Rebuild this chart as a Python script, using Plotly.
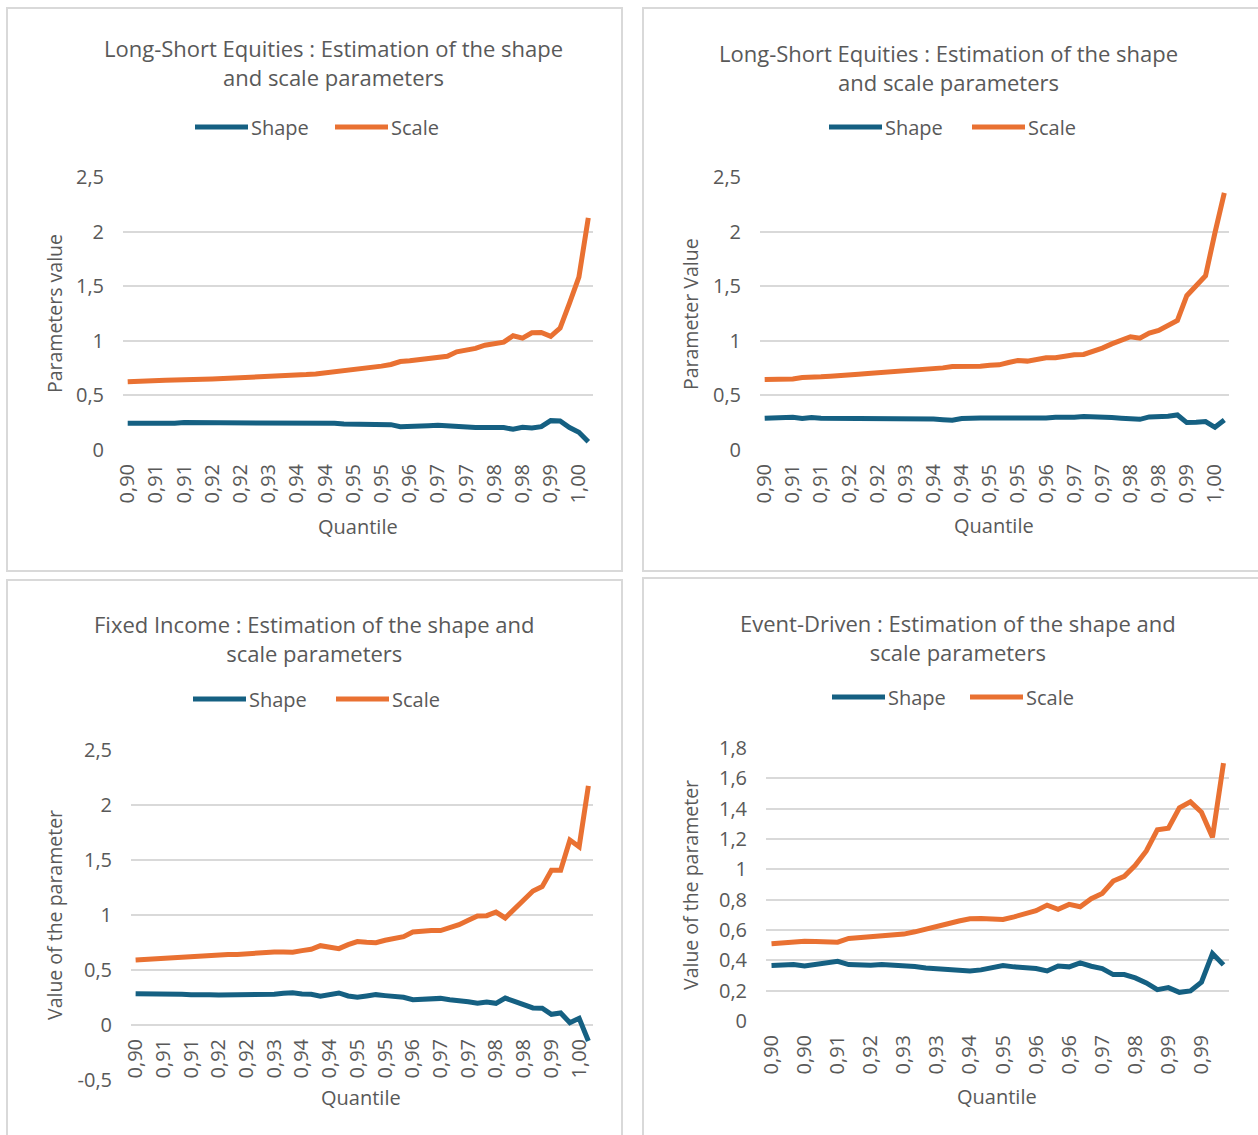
import plotly.graph_objects as go

W, H = 1258, 1135

# ---- data -------------------------------------------------------------
# Long-Short Equities (first estimation)
ls1_shape = [0.245, 0.243, 0.245, 0.245, 0.243, 0.245, 0.251, 0.251, 0.251, 0.251,
             0.251, 0.251, 0.251, 0.248, 0.248, 0.248, 0.245, 0.245, 0.248, 0.248,
             0.248, 0.245, 0.245, 0.239, 0.236, 0.235, 0.233, 0.232, 0.232, 0.214,
             0.220, 0.220, 0.223, 0.226, 0.220, 0.211, 0.208, 0.205, 0.205, 0.202,
             0.205, 0.190, 0.208, 0.202, 0.214, 0.269, 0.266, 0.205, 0.162, 0.076]
ls1_scale = [0.624, 0.630, 0.633, 0.636, 0.639, 0.642, 0.642, 0.639, 0.648, 0.651,
             0.654, 0.661, 0.664, 0.667, 0.670, 0.676, 0.682, 0.685, 0.688, 0.691,
             0.697, 0.706, 0.716, 0.725, 0.734, 0.752, 0.761, 0.768, 0.783, 0.810,
             0.817, 0.826, 0.832, 0.850, 0.859, 0.899, 0.917, 0.930, 0.960, 0.972,
             0.988, 1.046, 1.024, 1.073, 1.076, 1.040, 1.116, 1.346, 1.584, 2.125]

# Long-Short Equities (second estimation)
ls2_shape = [0.291, 0.294, 0.300, 0.300, 0.288, 0.297, 0.291, 0.291, 0.291, 0.288,
             0.284, 0.284, 0.284, 0.288, 0.288, 0.288, 0.288, 0.281, 0.284, 0.278,
             0.272, 0.288, 0.294, 0.294, 0.294, 0.294, 0.288, 0.284, 0.294, 0.291,
             0.294, 0.300, 0.297, 0.300, 0.306, 0.306, 0.303, 0.297, 0.291, 0.288,
             0.281, 0.303, 0.303, 0.309, 0.321, 0.251, 0.254, 0.260, 0.208, 0.275]
ls2_scale = [0.645, 0.645, 0.642, 0.651, 0.664, 0.664, 0.670, 0.676, 0.679, 0.691,
             0.694, 0.700, 0.706, 0.716, 0.716, 0.722, 0.725, 0.740, 0.740, 0.752,
             0.765, 0.765, 0.761, 0.768, 0.777, 0.780, 0.801, 0.820, 0.814, 0.826,
             0.844, 0.844, 0.859, 0.872, 0.875, 0.902, 0.933, 0.972, 1.003, 1.037,
             1.024, 1.070, 1.095, 1.147, 1.187, 1.413, 1.498, 1.596, 1.988, 2.355]

# Fixed Income
fi_shape = [0.285, 0.285, 0.288, 0.282, 0.279, 0.279, 0.276, 0.279, 0.276, 0.273,
            0.273, 0.279, 0.276, 0.273, 0.279, 0.279, 0.288, 0.294, 0.282, 0.279,
            0.261, 0.273, 0.291, 0.264, 0.252, 0.264, 0.276, 0.267, 0.261, 0.252,
            0.230, 0.233, 0.236, 0.242, 0.230, 0.224, 0.212, 0.197, 0.209, 0.197,
            0.245, 0.215, 0.182, 0.155, 0.152, 0.097, 0.109, 0.021, 0.061, -0.145]
fi_scale = [0.591, 0.597, 0.600, 0.606, 0.615, 0.621, 0.624, 0.627, 0.630, 0.639,
            0.642, 0.642, 0.648, 0.658, 0.658, 0.664, 0.664, 0.661, 0.676, 0.688,
            0.721, 0.709, 0.694, 0.730, 0.758, 0.752, 0.748, 0.770, 0.782, 0.803,
            0.845, 0.855, 0.858, 0.858, 0.885, 0.912, 0.952, 0.991, 0.994, 1.027,
            0.973, 1.058, 1.142, 1.218, 1.258, 1.406, 1.406, 1.682, 1.621, 2.173]

# Event-Driven
ed_shape = [0.366, 0.366, 0.372, 0.363, 0.374, 0.383, 0.394, 0.372, 0.368, 0.368,
            0.372, 0.368, 0.368, 0.359, 0.350, 0.344, 0.339, 0.335, 0.330, 0.337,
            0.350, 0.366, 0.357, 0.355, 0.346, 0.330, 0.363, 0.357, 0.383, 0.361,
            0.346, 0.306, 0.306, 0.284, 0.251, 0.207, 0.220, 0.189, 0.198, 0.256,
            0.445, 0.370]
ed_scale = [0.509, 0.515, 0.518, 0.526, 0.524, 0.524, 0.520, 0.544, 0.551, 0.555,
            0.557, 0.566, 0.573, 0.588, 0.608, 0.623, 0.641, 0.659, 0.674, 0.676,
            0.674, 0.670, 0.687, 0.703, 0.727, 0.764, 0.736, 0.769, 0.753, 0.806,
            0.841, 0.923, 0.954, 1.026, 1.121, 1.260, 1.271, 1.405, 1.445, 1.377,
            1.211, 1.700]

# quantile labels shown on the category axes (one every third observation)
q_labels_50 = ["0,90", "0,91", "0,91", "0,92", "0,92", "0,93", "0,94", "0,94", "0,95",
               "0,95", "0,96", "0,97", "0,97", "0,98", "0,98", "0,99", "1,00"]
q_labels_42 = ["0,90", "0,90", "0,91", "0,92", "0,93", "0,93", "0,94", "0,95", "0,96",
               "0,96", "0,97", "0,98", "0,99", "0,99"]

y_ticks_25 = [0, 0.5, 1, 1.5, 2, 2.5]
y_text_25 = ["0", "0,5", "1", "1,5", "2", "2,5"]
y_ticks_fi = [-0.5, 0, 0.5, 1, 1.5, 2, 2.5]
y_text_fi = ["-0,5", "0", "0,5", "1", "1,5", "2", "2,5"]
y_ticks_ed = [0, 0.2, 0.4, 0.6, 0.8, 1, 1.2, 1.4, 1.6, 1.8]
y_text_ed = ["0", "0,2", "0,4", "0,6", "0,8", "1", "1,2", "1,4", "1,6", "1,8"]

BLUE = "#156082"
ORANGE = "#E97132"
TEXT = "#595959"
GRID = "#D9D9D9"
FONT = "Open Sans"


def px_x(v):
    return v / W


def px_y(v):
    return 1 - v / H


panels = [
    dict(title="Long-Short Equities : Estimation of the shape<br>and scale parameters",
         ytitle="Parameters value", shape=ls1_shape, scale=ls1_scale,
         labels=q_labels_50, yt=y_ticks_25, ytt=y_text_25, yr=[0, 2.5],
         plot=(123, 593, 177, 450), zero_px=450,
         box=(7, 622, 8, 571), title_xy=(333, 62.5), leg=(195, 335, 127),
         ytitle_xy=(54, 314), xtitle_xy=(358, 526)),
    dict(title="Long-Short Equities : Estimation of the shape<br>and scale parameters",
         ytitle="Parameter Value", shape=ls2_shape, scale=ls2_scale,
         labels=q_labels_50, yt=y_ticks_25, ytt=y_text_25, yr=[0, 2.5],
         plot=(760, 1229, 177, 450), zero_px=450,
         box=(643, 1262, 8, 571), title_xy=(948, 67.5), leg=(829, 972, 127),
         ytitle_xy=(690, 314), xtitle_xy=(994, 525)),
    dict(title="Fixed Income : Estimation of the shape and<br>scale parameters",
         ytitle="Value of the parameter", shape=fi_shape, scale=fi_scale,
         labels=q_labels_50, yt=y_ticks_fi, ytt=y_text_fi, yr=[-0.5, 2.5],
         plot=(131, 593, 750, 1080), zero_px=1025,
         box=(7, 622, 580, 1140), title_xy=(314, 638.5), leg=(193, 336, 699),
         ytitle_xy=(54, 915), xtitle_xy=(361, 1097)),
    dict(title="Event-Driven : Estimation of the shape and<br>scale parameters",
         ytitle="Value of the parameter", shape=ed_shape, scale=ed_scale,
         labels=q_labels_42, yt=y_ticks_ed, ytt=y_text_ed, yr=[0, 1.8],
         plot=(766, 1229, 748, 1021), zero_px=1021,
         box=(643, 1262, 578, 1140), title_xy=(958, 637.5), leg=(832, 970, 697),
         ytitle_xy=(690, 885), xtitle_xy=(997, 1096)),
]

fig = go.Figure()
shapes = []
annotations = []
layout_axes = {}

for k, p in enumerate(panels, start=1):
    xa = "x" if k == 1 else f"x{k}"
    ya = "y" if k == 1 else f"y{k}"
    n = len(p["shape"])
    idx = list(range(n))

    fig.add_trace(go.Scatter(x=idx, y=p["shape"], mode="lines", name="Shape",
                             line=dict(color=BLUE, width=5), xaxis=xa, yaxis=ya,
                             showlegend=False))
    fig.add_trace(go.Scatter(x=idx, y=p["scale"], mode="lines", name="Scale",
                             line=dict(color=ORANGE, width=5), xaxis=xa, yaxis=ya,
                             showlegend=False))

    x0, x1, y0, y1 = p["plot"]
    x_dom = [px_x(x0), px_x(x1)]
    y_dom = [px_y(y1), px_y(y0)]
    xkey = "xaxis" if k == 1 else f"xaxis{k}"
    ykey = "yaxis" if k == 1 else f"yaxis{k}"

    layout_axes[xkey] = dict(
        domain=x_dom, range=[-0.5, n - 0.5], anchor="free",
        position=px_y(p["zero_px"]), automargin=False,
        tickmode="array", tickvals=idx[::3][:len(p["labels"])], ticktext=p["labels"],
        tickangle=-90, showgrid=False, zeroline=False, showline=False,
        ticks="", ticklabelstandoff=9,
        tickfont=dict(family=FONT, size=20, color=TEXT), fixedrange=True,
    )
    layout_axes[ykey] = dict(
        domain=y_dom, range=p["yr"], anchor=xa, automargin=False,
        tickmode="array", tickvals=p["yt"], ticktext=p["ytt"],
        showgrid=True, gridcolor=GRID, gridwidth=1.5, zeroline=False,
        showline=False, ticks="", ticklabelstandoff=18,
        tickfont=dict(family=FONT, size=20, color=TEXT), fixedrange=True,
    )

    # chart area frame
    bx0, bx1, by0, by1 = p["box"]
    shapes.append(dict(type="rect", xref="paper", yref="paper",
                       x0=px_x(bx0), x1=px_x(bx1), y0=px_y(by1), y1=px_y(by0),
                       line=dict(color=GRID, width=2), fillcolor="rgba(0,0,0,0)",
                       layer="below"))

    # chart title
    tx, ty = p["title_xy"]
    annotations.append(dict(text=p["title"], x=px_x(tx), y=px_y(ty), xref="paper",
                            yref="paper", showarrow=False, xanchor="center",
                            yanchor="middle", align="center",
                            font=dict(family=FONT, size=22, color=TEXT)))

    # legend: line sample + label for each series
    lb, lo, ly = p["leg"]
    for sx, name, col in ((lb, "Shape", BLUE), (lo, "Scale", ORANGE)):
        shapes.append(dict(type="line", xref="paper", yref="paper",
                           x0=px_x(sx), x1=px_x(sx + 53), y0=px_y(ly), y1=px_y(ly),
                           line=dict(color=col, width=5)))
        annotations.append(dict(text=name, x=px_x(sx + 54), y=px_y(ly), xref="paper",
                                yref="paper", showarrow=False, xanchor="left",
                                yanchor="middle",
                                font=dict(family=FONT, size=20, color=TEXT)))

    # axis titles
    ax_, ay_ = p["ytitle_xy"]
    annotations.append(dict(text=p["ytitle"], x=px_x(ax_), y=px_y(ay_), xref="paper",
                            yref="paper", showarrow=False, textangle=-90,
                            xanchor="center", yanchor="middle",
                            font=dict(family=FONT, size=19.5, color=TEXT)))
    qx, qy = p["xtitle_xy"]
    annotations.append(dict(text="Quantile", x=px_x(qx), y=px_y(qy), xref="paper",
                            yref="paper", showarrow=False, xanchor="center",
                            yanchor="middle",
                            font=dict(family=FONT, size=20, color=TEXT)))

fig.update_layout(
    width=W, height=H,
    margin=dict(l=0, r=0, t=0, b=0, pad=0, autoexpand=False),
    paper_bgcolor="white", plot_bgcolor="white",
    shapes=shapes, annotations=annotations, showlegend=False,
    **layout_axes,
)

fig.write_html("out.html", config=dict(displayModeBar=False))
